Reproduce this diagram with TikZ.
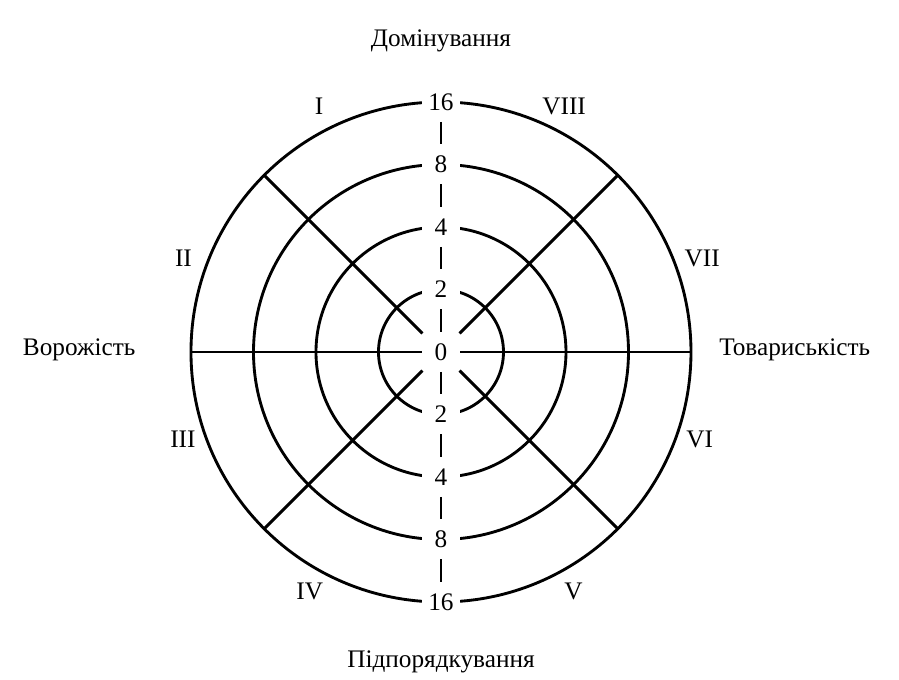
\documentclass[tikz,border=0pt]{standalone}
\usepackage{fontspec}
\setmainfont{Liberation Serif}
\usetikzlibrary{calc}

\begin{document}
\begin{tikzpicture}[font=\fontsize{11.5}{13}\selectfont,
  ring/.style={line width=1.3pt},
  num/.style={fill=white,inner sep=1pt,minimum width=0.6cm}]
  \useasboundingbox (-7.056,-5.248) rectangle (7.328,5.632);
  \foreach \r in {1,2,3,4} \draw[ring] (0,0) circle (\r);
  \draw[ring] (-4,0) -- (4,0);
  \foreach \a in {45,135,225,315} \draw[ring] (\a:0.42) -- (\a:4);
  % scale on the vertical axis
  \node[num] (n0) at (0,0) {0};
  \foreach \r/\v in {1/2,2/4,3/8,4/16} {
    \node[num] (u\v) at (0,\r) {\v};
    \node[num] (d\v) at (0,-\r) {\v};
  }
  \foreach \p/\q in {u16/u8,u8/u4,u4/u2,u2/n0,n0/d2,d2/d4,d4/d8,d8/d16}
    \draw[line width=0.8pt] ($(\p)!.5!(\q)+(0,.18)$) -- ($(\p)!.5!(\q)-(0,.18)$);
  % axes
  \node (dom) at (0,4.98) {Домінування};
  \node (pid) at (0,-4.96) {Підпорядкування};
  \node (vor) at (-5.79,0.03) {Ворожість};
  \node (tov) at (5.66,0.03) {Товариськість};
  % octants
  \node (o1) at (-1.95,3.93) {I};
  \node (o2) at (-4.12,1.5) {II};
  \node (o3) at (-4.13,-1.4) {III};
  \node (o4) at (-2.1,-3.83) {IV};
  \node (o5) at (2.12,-3.83) {V};
  \node (o6) at (4.14,-1.4) {VI};
  \node (o7) at (4.18,1.5) {VII};
  \node (o8) at (1.97,3.93) {VIII};
\end{tikzpicture}
\end{document}
